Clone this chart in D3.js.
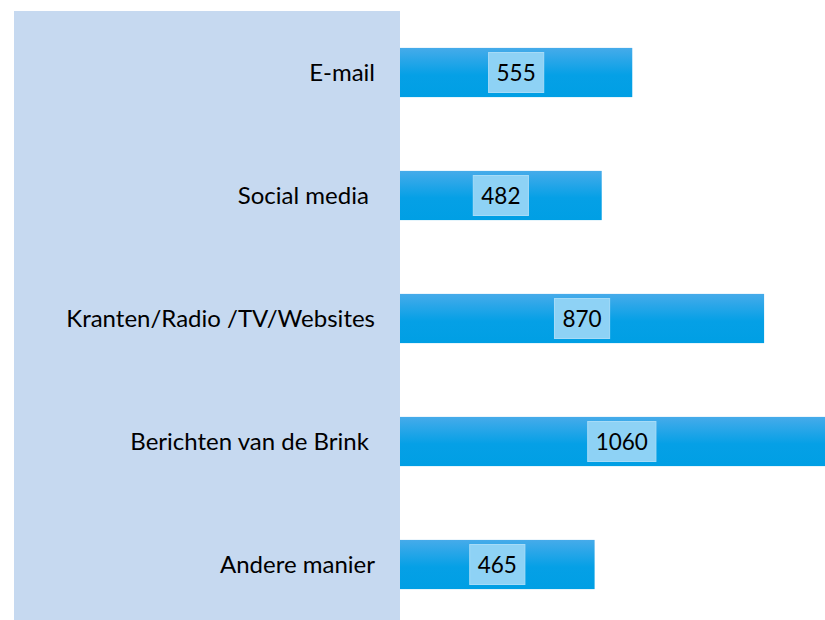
<!DOCTYPE html>
<html lang="nl">
<head>
<meta charset="UTF-8">
<title>Bronnen</title>
<script src="https://cdn.jsdelivr.net/npm/d3@7/dist/d3.min.js"></script>
<style>
body{margin:0;background:#fff;}
text{font-family:Lato,"Open Sans",sans-serif;fill:#000;white-space:pre;}
</style>
</head>
<body>
<script>
// categorieen en aantallen (spatie aan het eind zoals in het origineel)
var categories = ["E-mail","Social media ","Kranten/Radio /TV/Websites","Berichten van de Brink ","Andere manier"];
var values = [555,482,870,1060,465];

var width = 825, height = 620;
var svg = d3.select("body").append("svg").attr("width",width).attr("height",height);

// gradient voor de balken
var grad = svg.append("defs").append("linearGradient").attr("id","barGrad")
	.attr("x1",0).attr("y1",0).attr("x2",0).attr("y2",1);
grad.append("stop").attr("offset","0%").attr("stop-color","#46abea");
grad.append("stop").attr("offset","55%").attr("stop-color","#05a0e6");
grad.append("stop").attr("offset","100%").attr("stop-color","#009fe4");

var xScale = d3.scaleLinear().domain([0,1000]).range([400,818.5]);
var yScale = d3.scaleBand().domain(categories).range([11,626]).paddingInner(0.6).paddingOuter(0.3);

// achtergrondvlak van de labels
svg.append("rect").attr("x",14).attr("y",11).attr("width",386).attr("height",609).attr("fill","#c6d9f0");

// categorie labels
svg.selectAll(".cat").data(categories).enter().append("text")
	.attr("class","cat")
	.attr("x",375)
	.attr("y",function(d){return yScale(d)+yScale.bandwidth()/2;})
	.attr("dy","0.35em")
	.attr("text-anchor","end")
	.attr("xml:space","preserve")
	.style("font-size","24px")
	.text(function(d){return d;});

// balken
svg.selectAll(".bar").data(values).enter().append("rect")
	.attr("class","bar")
	.attr("x",xScale(0))
	.attr("y",function(d,i){return yScale(categories[i]);})
	.attr("width",function(d){return xScale(d)-xScale(0);})
	.attr("height",yScale.bandwidth())
	.attr("fill","url(#barGrad)");

// waarde labels met kader
var lab = svg.selectAll(".val").data(values).enter().append("g").attr("class","val")
	.attr("transform",function(d,i){
		var cx = (xScale(0)+xScale(d))/2;
		var cy = yScale(categories[i])+yScale.bandwidth()/2;
		return "translate("+cx+","+cy+")";
	});
lab.append("text")
	.attr("text-anchor","middle")
	.attr("dy","0.36em")
	.style("font-size","22.5px")
	.text(function(d){return d;});
lab.each(function(){
	var g = d3.select(this);
	var bb = g.select("text").node().getBBox();
	g.insert("rect","text")
		.attr("x",bb.x-8).attr("y",-20)
		.attr("width",bb.width+16).attr("height",40)
		.attr("fill","#8ed2f5").attr("stroke","#a6dbf7").attr("stroke-width",1);
});
</script>
</body>
</html>
